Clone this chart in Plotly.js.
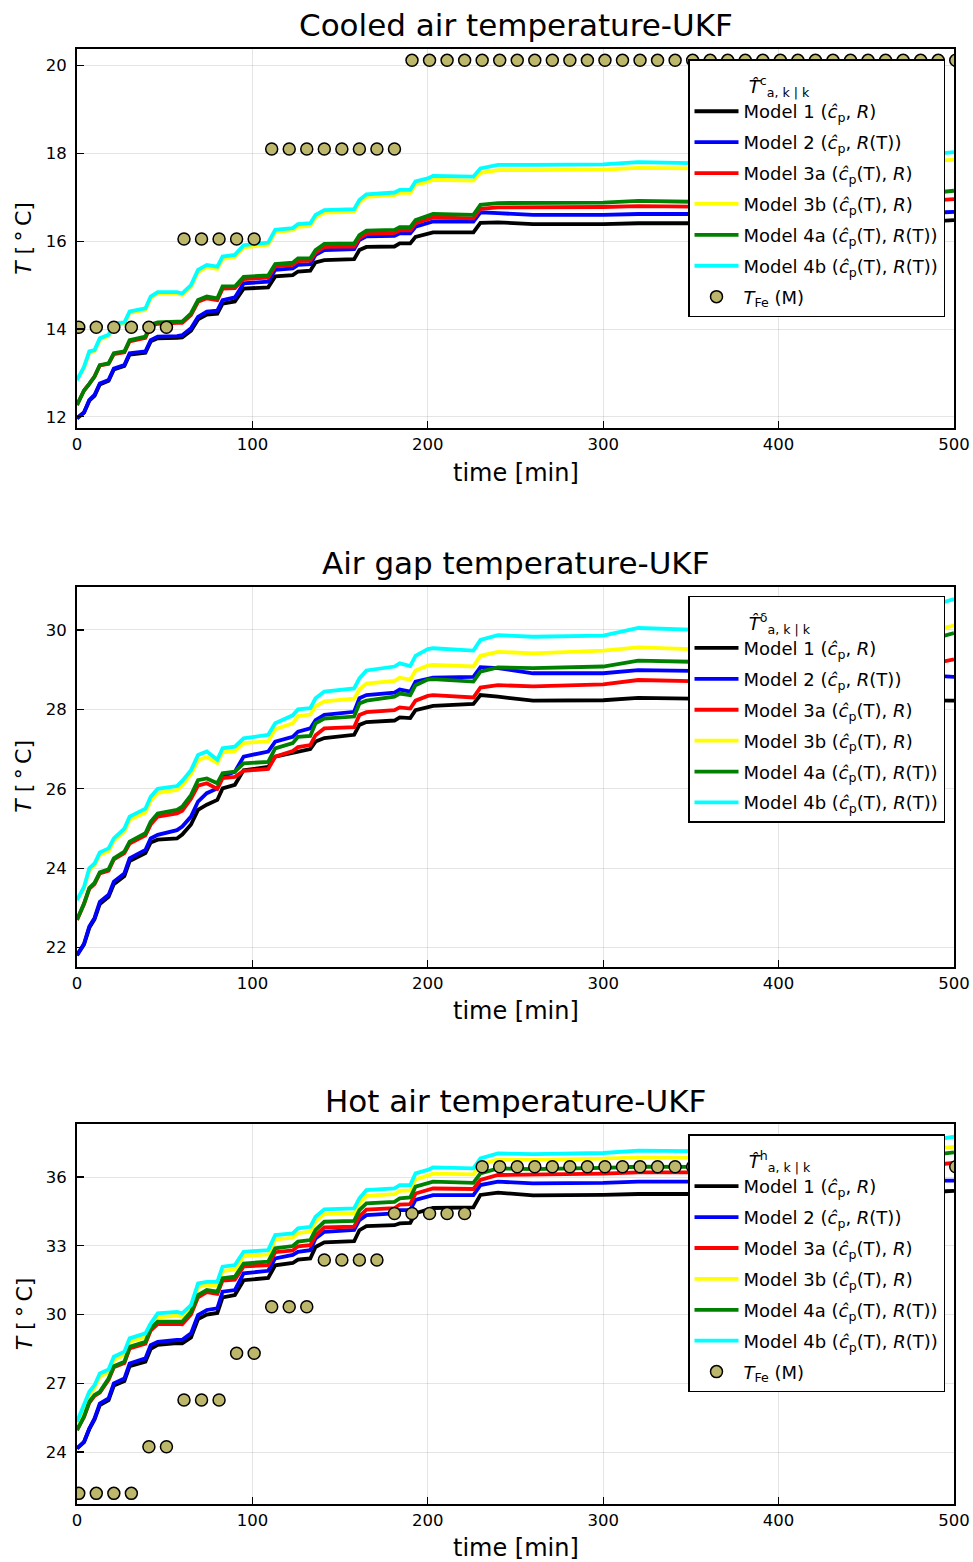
<!DOCTYPE html>
<html>
<head>
<meta charset="utf-8">
<script src="https://cdn.plot.ly/plotly-3.0.1.min.js"></script>
<style>html,body{margin:0;padding:0;background:#fff;}</style>
</head>
<body>
<div id="chart" style="width:973px;height:1562px;"></div>
<script>
// ---- data ----
const t = [0,4,7,10,13,18,21,27,30,39,42,46,57,60,65,69,74,80,83,90,95,109,113,123,126,133,136,141,158,161,165,181,184,190,193,200,203,226,230,240,260,300,320,350,440,495,500];
const tFe = [1,11,21,31,41,51,61,71,81,91,101,111,121,131,141,151,161,171,181,191,201,211,221,231,241,251,261,271,281,291,301,311,321,331,341,351,361,371,381,391,401,411,421,431,441,451,461,471,481,491,501];

const modelNames = [
  "Model 1 (<i>ĉ</i><sub>p</sub>, <i>R</i>)",
  "Model 2 (<i>ĉ</i><sub>p</sub>, <i>R</i>(T))",
  "Model 3a (<i>ĉ</i><sub>p</sub>(T), <i>R</i>)",
  "Model 3b (<i>ĉ</i><sub>p</sub>(T), <i>R</i>)",
  "Model 4a (<i>ĉ</i><sub>p</sub>(T), <i>R</i>(T))",
  "Model 4b (<i>ĉ</i><sub>p</sub>(T), <i>R</i>(T))"
];
const measName = "<i>T</i><sub>Fe</sub> (M)";

// Cooled air temperature
const c_m1  = [11.97,12.1,12.37,12.48,12.74,12.82,13.08,13.16,13.42,13.46,13.72,13.79,13.8,13.81,13.96,14.22,14.33,14.35,14.58,14.63,14.92,14.95,15.2,15.23,15.31,15.33,15.52,15.57,15.59,15.8,15.87,15.88,15.95,15.95,16.1,16.18,16.2,16.2,16.42,16.43,16.39,16.39,16.41,16.41,16.41,16.47,16.48];
const c_m2  = [11.97,12.1,12.38,12.5,12.76,12.84,13.1,13.18,13.45,13.49,13.75,13.83,13.84,13.86,14.02,14.28,14.40,14.42,14.66,14.72,15.04,15.08,15.35,15.38,15.46,15.48,15.69,15.80,15.82,16.03,16.11,16.12,16.18,16.18,16.33,16.41,16.45,16.45,16.66,16.64,16.6,16.6,16.62,16.62,16.62,16.66,16.67];
const c_m3a = [12.27,12.6,12.75,12.92,13.17,13.21,13.43,13.47,13.72,13.8,14.07,14.12,14.14,14.14,14.32,14.62,14.7,14.66,14.92,14.93,15.14,15.17,15.43,15.46,15.55,15.56,15.74,15.87,15.88,16.07,16.17,16.19,16.25,16.25,16.41,16.5,16.54,16.52,16.74,16.77,16.77,16.78,16.8,16.79,16.8,16.94,16.96];
const c_m3b = [12.84,13.12,13.46,13.5,13.76,13.84,14.1,14.12,14.37,14.44,14.71,14.81,14.81,14.78,14.96,15.3,15.41,15.37,15.6,15.64,15.86,15.92,16.21,16.25,16.33,16.35,16.54,16.65,16.67,16.88,17.01,17.05,17.1,17.1,17.29,17.35,17.4,17.38,17.56,17.62,17.62,17.63,17.67,17.66,17.68,17.84,17.86];
const c_m4a = [12.27,12.6,12.75,12.92,13.18,13.22,13.45,13.49,13.75,13.83,14.1,14.15,14.17,14.17,14.36,14.66,14.74,14.70,14.97,14.97,15.19,15.22,15.48,15.51,15.61,15.61,15.80,15.94,15.95,16.14,16.24,16.26,16.32,16.32,16.48,16.58,16.62,16.6,16.83,16.87,16.87,16.88,16.92,16.9,16.92,17.12,17.15];
const c_m4b = [12.84,13.14,13.49,13.52,13.79,13.87,14.13,14.15,14.40,14.47,14.74,14.84,14.84,14.81,15.0,15.35,15.46,15.42,15.65,15.69,15.91,15.97,16.26,16.3,16.39,16.41,16.6,16.71,16.73,16.94,17.07,17.11,17.17,17.17,17.36,17.43,17.49,17.47,17.66,17.74,17.74,17.75,17.8,17.78,17.8,18.0,18.03];
const c_Fe  = [14.04,14.04,14.04,14.04,14.04,14.04,16.05,16.05,16.05,16.05,16.05,18.1,18.1,18.1,18.1,18.1,18.1,18.1,18.1,20.12,20.12,20.12,20.12,20.12,20.12,20.12,20.12,20.12,20.12,20.12,20.12,20.12,20.12,20.12,20.12,20.12,20.12,20.12,20.12,20.12,20.12,20.12,20.12,20.12,20.12,20.12,20.12,20.12,20.12,20.12,20.12];

// Air gap temperature
const g_m1  = [21.81,22.08,22.5,22.72,23.1,23.28,23.6,23.8,24.18,24.38,24.65,24.72,24.75,24.85,25.1,25.47,25.6,25.72,26.01,26.1,26.47,26.55,26.81,26.9,26.94,27.0,27.19,27.28,27.36,27.61,27.68,27.72,27.8,27.78,27.98,28.07,28.09,28.14,28.36,28.32,28.22,28.23,28.29,28.27,28.25,28.22,28.22];
const g_m2  = [21.81,22.1,22.53,22.75,23.15,23.33,23.66,23.87,24.25,24.46,24.75,24.84,24.96,25.05,25.3,25.68,25.89,26.01,26.31,26.43,26.81,26.94,27.19,27.31,27.44,27.52,27.73,27.86,27.94,28.28,28.36,28.42,28.5,28.45,28.7,28.78,28.8,28.82,29.06,29.04,28.91,28.91,28.99,28.97,28.9,28.83,28.82];
const g_m3a = [22.7,23.1,23.48,23.6,23.87,23.94,24.22,24.38,24.62,24.83,25.1,25.3,25.38,25.45,25.75,26.08,26.14,26.0,26.27,26.3,26.45,26.5,26.81,26.95,27.05,27.1,27.35,27.52,27.55,27.86,27.93,27.98,28.05,28.02,28.22,28.34,28.36,28.3,28.55,28.61,28.58,28.63,28.74,28.71,28.72,29.2,29.26];
const g_m3b = [23.2,23.5,23.95,24.07,24.35,24.42,24.7,24.92,25.22,25.4,25.7,25.9,25.97,26.08,26.37,26.72,26.8,26.65,26.92,26.95,27.15,27.2,27.5,27.65,27.83,27.87,28.08,28.2,28.27,28.5,28.65,28.72,28.8,28.75,28.98,29.1,29.12,29.08,29.35,29.45,29.41,29.48,29.56,29.52,29.52,30.05,30.11];
const g_m4a = [22.7,23.11,23.5,23.63,23.9,23.97,24.25,24.42,24.67,24.88,25.17,25.38,25.47,25.55,25.84,26.22,26.26,26.14,26.39,26.43,26.64,26.68,27.02,27.15,27.31,27.33,27.65,27.77,27.82,28.15,28.22,28.32,28.4,28.36,28.61,28.75,28.76,28.7,28.95,29.06,29.04,29.08,29.23,29.2,29.2,29.85,29.92];
const g_m4b = [23.2,23.53,24.0,24.12,24.4,24.5,24.75,25.0,25.3,25.5,25.8,26.0,26.07,26.2,26.47,26.85,26.94,26.73,27.02,27.06,27.27,27.36,27.65,27.85,28.0,28.03,28.28,28.45,28.53,28.78,28.98,29.08,29.16,29.09,29.35,29.52,29.54,29.48,29.75,29.87,29.83,29.86,30.05,30.01,30.0,30.7,30.78];

// Hot air temperature
const h_m1  = [24.16,24.43,25.0,25.42,26.05,26.26,26.9,27.1,27.75,27.95,28.5,28.68,28.75,28.75,29.0,29.8,30.0,30.07,30.75,30.85,31.5,31.6,32.15,32.25,32.4,32.45,32.95,33.15,33.2,33.68,33.86,33.9,33.98,34.0,34.42,34.6,34.65,34.68,35.22,35.32,35.2,35.22,35.26,35.26,35.28,35.38,35.4];
const h_m2  = [24.16,24.45,25.03,25.47,26.12,26.34,27.0,27.21,27.87,28.09,28.67,28.81,28.89,28.9,29.18,29.98,30.2,30.27,31.0,31.07,31.8,31.91,32.45,32.6,32.74,32.81,33.32,33.61,33.69,34.12,34.34,34.41,34.56,34.56,35.0,35.17,35.21,35.21,35.65,35.8,35.72,35.75,35.8,35.8,35.8,35.83,35.84];
const h_m3a = [24.96,25.53,26.15,26.45,26.6,27.15,27.7,27.88,28.52,28.73,29.3,29.58,29.6,29.58,30.0,30.75,30.98,30.9,31.48,31.52,32.1,32.16,32.72,32.8,32.98,33.03,33.45,33.8,33.84,34.28,34.58,34.64,34.8,34.82,35.28,35.45,35.5,35.48,35.88,36.09,36.1,36.15,36.2,36.2,36.2,36.58,36.62];
const h_m3b = [25.25,25.95,26.5,26.8,27.3,27.48,28.02,28.25,28.82,29.02,29.45,29.88,29.95,29.9,30.25,31.2,31.3,31.27,31.9,31.97,32.55,32.62,33.28,33.35,33.55,33.62,34.05,34.38,34.42,34.85,35.18,35.25,35.4,35.42,35.9,36.06,36.15,36.12,36.55,36.77,36.75,36.8,36.86,36.85,36.85,37.28,37.32];
const h_m4a = [24.96,25.55,26.2,26.49,26.63,27.21,27.75,27.94,28.6,28.81,29.4,29.69,29.69,29.69,30.12,30.85,31.07,31.0,31.58,31.65,32.23,32.31,32.89,32.99,33.18,33.25,33.69,34.05,34.09,34.56,34.85,34.92,35.07,35.11,35.58,35.72,35.8,35.75,36.16,36.38,36.35,36.4,36.45,36.44,36.44,37.03,37.08];
const h_m4b = [25.32,26.05,26.63,26.92,27.43,27.6,28.16,28.38,28.96,29.18,29.61,30.05,30.12,30.05,30.41,31.36,31.43,31.43,32.09,32.16,32.74,32.81,33.47,33.54,33.76,33.83,34.27,34.59,34.63,35.07,35.43,35.51,35.65,35.65,36.16,36.31,36.42,36.38,36.81,37.03,37.0,37.05,37.15,37.13,37.13,37.7,37.76];
const h_Fe  = [22.2,22.2,22.2,22.2,24.23,24.23,26.27,26.27,26.27,28.31,28.31,30.34,30.34,30.34,32.38,32.38,32.38,32.38,34.41,34.41,34.41,34.41,34.41,36.45,36.45,36.45,36.45,36.45,36.45,36.45,36.45,36.45,36.45,36.45,36.45,36.45,36.45,36.45,36.45,36.45,36.45,36.45,36.45,36.45,36.45,36.45,36.45,36.45,36.45,36.45,36.45];

const panelTitles = ["Cooled air temperature-UKF", "Air gap temperature-UKF", "Hot air temperature-UKF"];
const legendTitles = [
  "<i>T̂</i><sup>c</sup><sub>a, k | k</sub>",
  "<i>T̂</i><sup>δ</sup><sub>a, k | k</sub>",
  "<i>T̂</i><sup>h</sup><sub>a, k | k</sub>"
];
const xTitle = "time [min]";
const yTitle = "<i>T</i> [\u2009°\u2009C]";

// ---- styling ----
const colors = ["#000000", "#0000ff", "#ff0000", "#ffff00", "#008000", "#00ffff"];
const FONT = "DejaVu Sans";
const PAD = "\u00a0\u00a0\u00a0\u00a0\u00a0\u00a0\u00a0\u00a0\u00a0\u00a0";
const panels = [
  {series: [c_m1, c_m2, c_m3a, c_m3b, c_m4a, c_m4b], fe: c_Fe, range: [11.74, 20.37], ticks: [12,14,16,18,20], dom: [0.7258, 0.9684], legY: 0.9622, titleY: 0.984, xtY: 0.6972},
  {series: [g_m1, g_m2, g_m3a, g_m3b, g_m4a, g_m4b], fe: null, range: [21.52, 31.09], ticks: [22,24,26,28,30], dom: [0.3811, 0.6244], legY: 0.6186, titleY: 0.6396, xtY: 0.3528},
  {series: [h_m1, h_m2, h_m3a, h_m3b, h_m4a, h_m4b], fe: h_Fe, range: [21.72, 38.3], ticks: [24,27,30,33,36], dom: [0.0369, 0.2802], legY: 0.274, titleY: 0.2951, xtY: 0.009}
];

const traces = [];
const layout = {
  width: 973, height: 1562,
  margin: {l: 77, r: 19, t: 0, b: 0},
  paper_bgcolor: "white", plot_bgcolor: "white",
  font: {family: FONT, color: "black"},
  showlegend: true,
  annotations: []
};

panels.forEach((p, i) => {
  const n = i + 1;
  const xa = n === 1 ? "x" : "x" + n;
  const ya = n === 1 ? "y" : "y" + n;
  const legId = n === 1 ? "legend" : "legend" + n;
  p.series.forEach((s, j) => {
    traces.push({
      type: "scatter", mode: "lines", x: t, y: s,
      xaxis: xa, yaxis: ya, name: modelNames[j],
      legend: legId, legendgroup: "p" + n + "m" + j,
      line: {color: colors[j], width: 3.8}
    });
  });
  if (p.fe) {
    traces.push({
      type: "scatter", mode: "markers", x: tFe, y: p.fe,
      xaxis: xa, yaxis: ya, name: measName,
      legend: legId, legendgroup: "p" + n + "fe",
      marker: {color: "#bdb76b", size: 12, line: {color: "black", width: 1.5}}
    });
  }
  const axCommon = {
    showline: true, linecolor: "black", linewidth: 2, mirror: true,
    ticks: "inside", ticklen: 7, tickwidth: 1.2, tickcolor: "black",
    showgrid: true, gridcolor: "rgba(0,0,0,0.1)", gridwidth: 1,
    zeroline: false, tickfont: {family: FONT, size: 16.5, color: "black"},
    automargin: false
  };
  layout["xaxis" + (n === 1 ? "" : n)] = Object.assign({}, axCommon, {
    anchor: ya, domain: [0, 1], range: [0, 500],
    tickvals: [0,100,200,300,400,500]
  });
  layout["yaxis" + (n === 1 ? "" : n)] = Object.assign({}, axCommon, {
    anchor: xa, domain: p.dom, range: p.range,
    tickvals: p.ticks, ticklabelstandoff: 5
  });
  layout[legId] = {
    x: 0.6967, y: p.legY, xanchor: "left", yanchor: "top",
    bgcolor: "white", bordercolor: "black", borderwidth: 1.5,
    font: {family: FONT, size: 18, color: "black"},
    title: {text: '<span style="font-size:18px">' + PAD + legendTitles[i] + '</span>', side: "top",
            font: {family: FONT, size: 25, color: "black"}},
    tracegroupgap: 4.5, itemwidth: 44
  };
  layout.annotations.push({
    text: panelTitles[i], xref: "paper", yref: "paper", x: 0.5, y: p.titleY,
    xanchor: "center", yanchor: "middle", showarrow: false,
    font: {family: FONT, size: 31, color: "black"}
  });
  layout.annotations.push({
    text: xTitle, xref: "paper", yref: "paper", x: 0.5, y: p.xtY,
    xanchor: "center", yanchor: "middle", showarrow: false,
    font: {family: FONT, size: 24, color: "black"}
  });
  layout.annotations.push({
    text: yTitle, xref: "paper", yref: "paper", x: -0.0604, y: (p.dom[0] + p.dom[1]) / 2,
    xanchor: "center", yanchor: "middle", textangle: -90, showarrow: false,
    font: {family: FONT, size: 22, color: "black"}
  });
});

Plotly.newPlot("chart", traces, layout, {displayModeBar: false, staticPlot: true});
</script>
</body>
</html>
